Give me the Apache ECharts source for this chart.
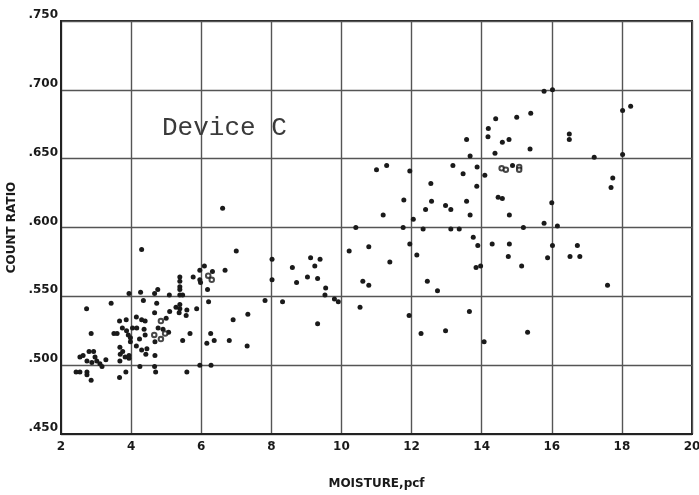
<!DOCTYPE html>
<html>
<head>
<meta charset="utf-8">
<script src="https://cdn.jsdelivr.net/npm/echarts@6/dist/echarts.min.js"></script>
<style>
  html, body { margin: 0; padding: 0; background: #fff; }
  #chart { width: 699px; height: 495px; }
</style>
</head>
<body>
<div id="chart"></div>
<script>
// filled dots: moisture (pcf) and count ratio
const moistureFilled = [
  2.43, 2.54, 2.74, 2.74, 2.86, 2.54, 2.63, 2.80, 2.93, 2.97, 2.74, 2.88, 3.02, 3.11, 3.17, 3.28,
  2.86, 2.73, 3.43, 3.51, 3.60, 3.68, 3.76, 3.69, 3.83, 3.68, 3.67, 3.85, 3.94, 3.94, 3.75, 3.87,
  3.92, 3.98, 3.98, 4.04, 4.16, 4.37, 4.40, 4.15, 4.24, 4.30, 4.42, 4.45, 4.68, 4.25, 4.67, 4.70,
  4.68, 4.77, 4.91, 5.07, 3.67, 3.86, 4.15, 4.30, 4.40, 4.67, 5.10, 5.28, 5.37, 5.39, 5.39, 5.59,
  5.57, 4.73, 4.35, 3.94, 4.27, 4.67, 4.76, 5.09, 5.39, 5.47, 5.39, 5.39, 5.39, 5.39, 4.30, 5.68,
  5.47, 5.59, 5.96, 6.28, 6.16, 6.27, 6.37, 6.80, 7.31, 5.87, 6.21, 6.18, 5.77, 5.96, 5.98, 6.09,
  5.96, 6.32, 6.68, 7.00, 6.61, 6.91, 7.33, 7.82, 8.02, 8.02, 5.00,
  8.32, 8.60, 8.72, 9.03, 9.12, 9.24, 9.32, 9.39, 9.55, 9.53, 9.80, 9.91, 9.32, 10.41, 10.22, 10.78,
  10.61, 10.78, 10.53, 11.38, 11.19, 11.00, 11.29, 11.78, 11.76, 11.95, 12.05, 11.95, 12.15, 11.93,
  15.40, 15.00, 14.40, 14.19, 14.18, 13.57, 14.59, 14.78, 15.38, 14.38, 13.67, 13.18, 13.87, 14.88,
  13.47, 14.09, 12.55, 13.86, 14.47, 14.59, 12.57, 13.57, 12.97, 12.40, 13.12, 13.67, 14.79, 12.33,
  13.12, 13.36, 15.19, 13.76, 13.89, 14.30, 14.79, 14.76, 15.14, 13.84, 13.97, 12.45, 12.74, 13.65,
  12.27, 12.97, 15.31, 14.07,
  15.78, 16.02, 18.02, 18.25, 16.50, 16.50, 17.21, 18.02, 17.74, 17.69, 16.00, 15.78, 16.16, 16.02,
  15.88, 16.73, 16.52, 16.80, 17.59
];
const ratioFilled = [
  .495, .495, .495, .493, .489, .506, .507, .510, .510, .506, .503, .502, .503, .501, .499, .504,
  .523, .541, .545, .523, .523, .513, .510, .508, .506, .503, .491, .495, .507, .505, .527, .525,
  .522, .520, .517, .527, .527, .526, .522, .514, .519, .511, .508, .512, .507, .499, .499, .495,
  .517, .527, .526, .524, .532, .533, .535, .533, .532, .538, .539, .542, .538, .544, .541, .540,
  .536, .545, .547, .552, .553, .552, .555, .551, .551, .551, .557, .555, .564, .561, .584, .523,
  .518, .495, .500, .500, .516, .523, .518, .518, .514, .541, .546, .555, .564, .562, .560, .572,
  .569, .568, .569, .583, .614, .533, .537, .547, .577, .562, .534,
  .546, .571, .560, .564, .578, .572, .563, .577, .556, .551, .548, .546, .530, .600, .583, .586,
  .561, .558, .542, .575, .609, .642, .645, .620, .600, .641, .606, .588, .580, .536,
  .683, .680, .679, .672, .666, .664, .662, .664, .657, .654, .652, .645, .644, .645,
  .639, .638, .632, .630, .622, .621, .619, .619, .616, .613, .613, .609, .609, .599,
  .599, .599, .600, .593, .587, .588, .588, .579, .572, .571, .572, .561, .554, .539,
  .523, .525, .524, .517,
  .699, .700, .685, .688, .668, .664, .651, .653, .636, .629, .618, .603, .601, .587,
  .578, .587, .579, .579, .558
];
// open circles
const moistureOpen = [4.85, 4.66, 4.85, 4.97, 6.20, 6.30, 14.57, 14.69, 15.07, 15.07];
const ratioOpen = [.532, .522, .519, .523, .565, .562, .643, .642, .644, .642];

const xTicks = [2, 4, 6, 8, 10, 12, 14, 16, 18, 20];
const yTicks = [.45, .5, .55, .6, .65, .7, .75];

const pairs = (xs, ys) => xs.map((x, i) => [x, ys[i]]);

const myChart = echarts.init(document.getElementById("chart"));

const labelFont = { fontFamily: "DejaVu Sans", fontWeight: "bold", color: "#1a1a1a" };

myChart.setOption({
  animation: false,
  backgroundColor: "#fff",
  title: {
    text: "Device C",
    left: 157,
    top: 110,
    textStyle: { fontFamily: "Liberation Mono", fontWeight: "normal", fontSize: 26, color: "#3a3a3a" },
  },
  grid: {
    left: 61, right: 7, top: 21, bottom: 61,
    outerBoundsMode: "none",
    show: true, borderColor: "#222", borderWidth: 2,
  },
  xAxis: {
    type: "value",
    min: xTicks[0],
    max: xTicks[xTicks.length - 1],
    interval: 2,
    name: "MOISTURE,pcf",
    nameLocation: "middle",
    nameGap: 44,
    nameTextStyle: { ...labelFont, fontSize: 12 },
    axisLine: { lineStyle: { color: "#222", width: 2 } },
    axisTick: { show: false },
    axisLabel: { ...labelFont, fontSize: 12, margin: 7 },
    splitLine: { lineStyle: { color: "#555", width: 1.4 } },
  },
  yAxis: {
    type: "value",
    min: yTicks[0],
    max: yTicks[yTicks.length - 1],
    interval: 0.05,
    name: "COUNT RATIO",
    nameLocation: "middle",
    nameGap: 40,
    nameTextStyle: { ...labelFont, fontSize: 12 },
    axisLine: { lineStyle: { color: "#222", width: 2 } },
    axisTick: { show: false },
    axisLabel: {
      ...labelFont, fontSize: 12, margin: 3, verticalAlign: "bottom",
      formatter: (v) => v.toFixed(3).replace(/^0/, ""),
    },
    splitLine: { lineStyle: { color: "#555", width: 1.4 } },
  },
  series: [
    {
      type: "scatter",
      data: pairs(moistureFilled, ratioFilled),
      symbolSize: 5,
      itemStyle: { color: "#1a1a1a", opacity: 1 },
    },
    {
      type: "scatter",
      data: pairs(moistureOpen, ratioOpen),
      symbol: "emptyCircle",
      symbolSize: 4.5,
      itemStyle: { color: "#1a1a1a", borderColor: "#1a1a1a", borderWidth: 1.2 },
    },
  ],
});
</script>
</body>
</html>
